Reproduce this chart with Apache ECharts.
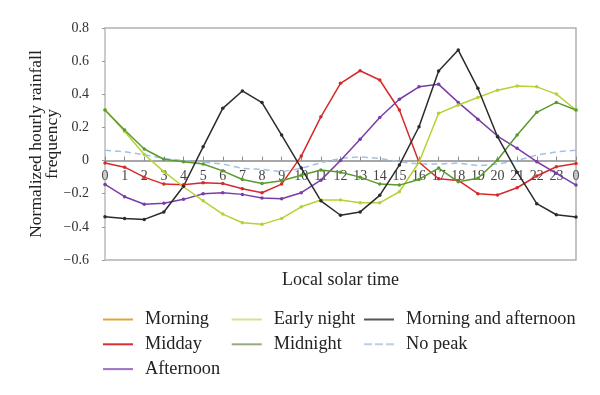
<!DOCTYPE html>
<html>
<head>
<meta charset="utf-8">
<script src="https://cdn.jsdelivr.net/npm/echarts@6/dist/echarts.min.js"></script>
<style>html,body{margin:0;padding:0;background:#fff}#c{width:600px;height:395px}</style>
</head>
<body>
<div id="c"></div>
<script>
const hours = ['0','1','2','3','4','5','6','7','8','9','10','11','12','13','14','15','16','17','18','19','20','21','22','23','0'];
const morning = [];
const midday = [-0.015,-0.04,-0.10,-0.142,-0.146,-0.134,-0.138,-0.17,-0.194,-0.142,0.027,0.264,0.466,0.542,0.486,0.305,-0.01,-0.11,-0.12,-0.2,-0.208,-0.164,-0.093,-0.037,-0.017];
const afternoon = [-0.144,-0.218,-0.264,-0.258,-0.234,-0.2,-0.194,-0.204,-0.226,-0.23,-0.194,-0.118,0.0,0.128,0.26,0.37,0.445,0.46,0.351,0.25,0.148,0.074,-0.007,-0.077,-0.148];
const earlyNight = [0.305,0.175,0.037,-0.067,-0.158,-0.243,-0.323,-0.375,-0.385,-0.349,-0.279,-0.238,-0.238,-0.255,-0.255,-0.188,-0.01,0.285,0.335,0.381,0.425,0.45,0.445,0.401,0.305];
const midnight = [0.305,0.185,0.07,0.008,-0.007,-0.021,-0.062,-0.114,-0.138,-0.122,-0.088,-0.057,-0.071,-0.1,-0.142,-0.148,-0.114,-0.045,-0.128,-0.107,0.003,0.154,0.291,0.351,0.305];
const morningAfternoon = [-0.339,-0.35,-0.355,-0.31,-0.155,0.083,0.315,0.42,0.35,0.154,-0.045,-0.243,-0.33,-0.31,-0.21,-0.027,0.204,0.54,0.667,0.436,0.144,-0.07,-0.26,-0.327,-0.34];
const noPeak = [0.063,0.053,0.035,0.013,0.0,-0.01,-0.021,-0.047,-0.053,-0.067,-0.047,-0.013,0.013,0.023,0.013,-0.007,-0.021,-0.021,-0.015,-0.031,-0.021,0.0,0.033,0.053,0.063];
const yMin = -0.6, yMax = 0.8, yStep = 0.2;

const FONT = 'Liberation Serif';
const GRID_TOP = 28, GRID_BOTTOM_PX = 260;
// pixel offset of the zero line above the grid bottom (derived from the value axis range)
const zeroOffset = (GRID_BOTTOM_PX - GRID_TOP) * (0 - yMin) / (yMax - yMin);

const solid = 'path://M0,0L30,0L30,2L0,2Z';
const dashed = 'path://M0,0L8,0L8,2L0,2Z M11,0L19,0L19,2L11,2Z M22,0L30,0L30,2L22,2Z';

function mkLine(name, data, color, opts) {
  return Object.assign({
    name: name, type: 'line', data: data,
    symbol: 'circle', symbolSize: 3.5,
    lineStyle: { color: color, width: 1.5 },
    itemStyle: { color: color },
    emphasis: { disabled: true },
    animation: false, z: 3
  }, opts || {});
}

const legendBase = {
  orient: 'vertical', top: 305.5, itemWidth: 30, itemHeight: 2, itemGap: 6.8,
  textStyle: { fontFamily: FONT, fontSize: 18.3, color: '#222', lineHeight: 18, padding: [0,0,0,7] },
  selectedMode: false
};

const option = {
  animation: false,
  backgroundColor: '#fff',
  grid: { left: 105, right: 24, top: GRID_TOP, bottom: 395 - GRID_BOTTOM_PX, show: true, borderColor: '#b0b0b0', borderWidth: 1.5, backgroundColor: 'transparent', containLabel: false, outerBoundsMode: 'none' },
  legend: [
    Object.assign({}, legendBase, { left: 98, data: [
      { name: 'Morning', icon: solid, itemStyle: { color: '#e9a23b' } },
      { name: 'Midday', icon: solid, itemStyle: { color: '#d83030' } },
      { name: 'Afternoon', icon: solid, itemStyle: { color: '#9a72c6' } }
    ]}),
    Object.assign({}, legendBase, { left: 226.7, data: [
      { name: 'Early night', icon: solid, itemStyle: { color: '#d2e28e' } },
      { name: 'Midnight', icon: solid, itemStyle: { color: '#98a880' } }
    ]}),
    Object.assign({}, legendBase, { left: 359, data: [
      { name: 'Morning and afternoon', icon: solid, itemStyle: { color: '#555555' } },
      { name: 'No peak', icon: dashed, itemStyle: { color: '#b8d0ec' } }
    ]})
  ],
  xAxis: {
    type: 'category', data: hours, boundaryGap: false,
    position: 'bottom', offset: -zeroOffset,
    name: 'Local solar time', nameLocation: 'middle', nameGap: 111, nameMoveOverlap: false,
    nameTextStyle: { fontFamily: FONT, fontSize: 18, color: '#222' },
    axisLine: { onZero: false, lineStyle: { color: '#8a8a8a', width: 1.5 } },
    axisTick: { show: true, inside: true, length: 4, interval: 0, lineStyle: { color: '#8a8a8a' } },
    axisLabel: { interval: 0, fontFamily: FONT, fontSize: 14, color: '#444', margin: 9 },
    splitLine: { show: false }
  },
  yAxis: {
    type: 'value', min: yMin, max: yMax, interval: yStep,
    name: 'Normalized hourly rainfall\nfrequency', nameLocation: 'middle', nameRotate: 90, nameGap: 45, nameMoveOverlap: false,
    nameTextStyle: { fontFamily: FONT, fontSize: 17.5, color: '#222', lineHeight: 16 },
    axisLine: { show: true, lineStyle: { color: '#cfcfcf', width: 1.5 } },
    axisTick: { show: true, length: 3, lineStyle: { color: '#999' } },
    axisLabel: { fontFamily: FONT, fontSize: 14, color: '#333', margin: 16,
      formatter: function (v) { const r = Math.round(v * 10) / 10; if (r === 0) return '0'; return r < 0 ? '\u2212' + (-r).toFixed(1) : r.toFixed(1); } },
    splitLine: { show: false }
  },
  series: [
    mkLine('Morning', morning, '#e9a23b'),
    mkLine('Midday', midday, '#d62a2a'),
    mkLine('Afternoon', afternoon, '#7a3da6'),
    mkLine('Early night', earlyNight, '#b3d335'),
    mkLine('Midnight', midnight, '#5a9a2e'),
    mkLine('Morning and afternoon', morningAfternoon, '#2b2b2b'),
    mkLine('No peak', noPeak, '#9fc2e8', { symbol: 'none', lineStyle: { color: '#9fc2e8', width: 1.5, type: [6, 4] }, z: 2 })
  ]
};
const chart = echarts.init(document.getElementById('c'), null, { renderer: 'canvas' });
chart.setOption(option);
</script>
</body>
</html>
